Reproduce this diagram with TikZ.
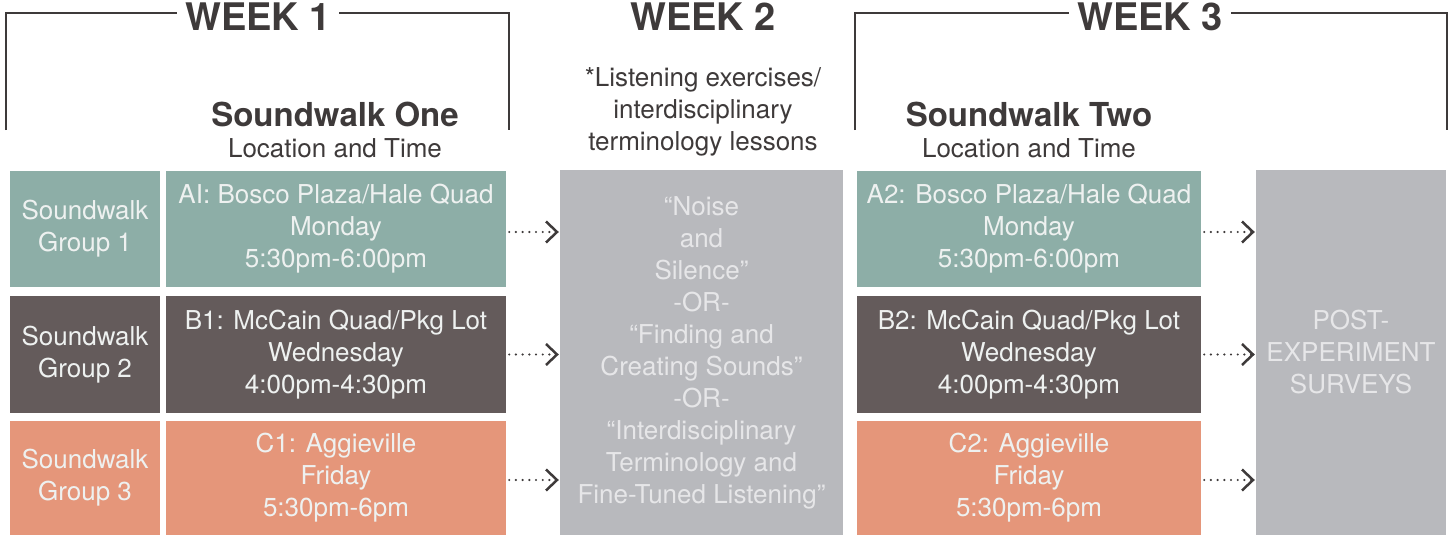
\documentclass[tikz,border=0pt]{standalone}
\usepackage{fontspec}
\setmainfont{TeX Gyre Heros}
\usetikzlibrary{arrows.meta}
\definecolor{tealc}{HTML}{8DAEA7}
\definecolor{darkc}{HTML}{645B5B}
\definecolor{orangec}{HTML}{E5967A}
\definecolor{grayc}{HTML}{B8B9BD}
\definecolor{inkc}{HTML}{3E3A3A}
\definecolor{boxtext}{HTML}{EEF1F0}
\definecolor{graytext}{HTML}{E6E6E8}
\newcommand{\bodyfont}{\fontsize{26}{32}\selectfont}
\begin{document}
\begin{tikzpicture}[x=1pt,y=-1pt,
  cell/.style={draw=none, inner sep=0pt, align=center, text=boxtext, font=\bodyfont},
  weeklabel/.style={font=\fontsize{38}{40}\selectfont\bfseries, text=inkc, inner sep=0pt, inner xsep=8pt},
  headbold/.style={font=\fontsize{33}{36}\selectfont\bfseries, text=inkc, inner sep=0pt},
  headreg/.style={font=\bodyfont, text=inkc, inner sep=0pt, align=center},
  bracket/.style={draw=inkc, line width=1.3pt},
  dotarrow/.style={draw=inkc, line width=2.4pt, line cap=round, dash pattern=on 0pt off 6.7pt,
    -{Straight Barb[length=11pt,width=21pt,line width=2.5pt]}, shorten >=1pt}
]
\useasboundingbox (0,0) rectangle (1452,535);

% week labels and brackets
\node[weeklabel] (w1) at (258,17) {WEEK 1};
\node[weeklabel] (w2) at (703,17) {WEEK 2};
\node[weeklabel] (w3) at (1150,17) {WEEK 3};
\draw[bracket] (6,130) -- (6,13) -- (w1.west |- 0,13);
\draw[bracket] (w1.east |- 0,13) -- (509,13) -- (509,130);
\draw[bracket] (855,130) -- (855,13) -- (w3.west |- 0,13);
\draw[bracket] (w3.east |- 0,13) -- (1447,13) -- (1447,130);

% headers
\node[headbold] (h1) at (335,114) {Soundwalk One};
\node[headreg] (l1) at (335,148) {Location and Time};
\node[headbold] (h3) at (1029,114) {Soundwalk Two};
\node[headreg] (l3) at (1029,148) {Location and Time};
\node[headreg] (n2) at (703,112) {*Listening exercises/\\interdisciplinary\\terminology lessons};

% column 1
\node[cell, fill=tealc, minimum width=150pt, minimum height=116pt] (g1) at (85,229) {Soundwalk\\Group 1};
\node[cell, fill=darkc, minimum width=150pt, minimum height=117pt] (g2) at (85,354.5) {Soundwalk\\Group 2};
\node[cell, fill=orangec, minimum width=150pt, minimum height=114pt] (g3) at (85,478) {Soundwalk\\Group 3};

% column 2
\node[cell, fill=tealc, minimum width=340pt, minimum height=116pt] (a1) at (336,229) {AI: Bosco Plaza/Hale Quad\\Monday\\5:30pm-6:00pm};
\node[cell, fill=darkc, minimum width=340pt, minimum height=117pt] (b1) at (336,354.5) {B1: McCain Quad/Pkg Lot\\Wednesday\\4:00pm-4:30pm};
\node[cell, fill=orangec, minimum width=340pt, minimum height=114pt] (c1) at (336,478) {C1: Aggieville\\Friday\\5:30pm-6pm};

% middle
\node[cell, fill=grayc, text=graytext, minimum width=283pt, minimum height=365pt] (mid) at (701.5,352.5)
  {“Noise\\and\\Silence”\\-OR-\\“Finding and\\Creating Sounds”\\-OR-\\“Interdisciplinary\\Terminology and\\Fine-Tuned Listening”};

% column 4
\node[cell, fill=tealc, minimum width=344pt, minimum height=116pt] (a2) at (1029,229) {A2: Bosco Plaza/Hale Quad\\Monday\\5:30pm-6:00pm};
\node[cell, fill=darkc, minimum width=344pt, minimum height=117pt] (b2) at (1029,354.5) {B2: McCain Quad/Pkg Lot\\Wednesday\\4:00pm-4:30pm};
\node[cell, fill=orangec, minimum width=344pt, minimum height=114pt] (c2) at (1029,478) {C2: Aggieville\\Friday\\5:30pm-6pm};

% post
\node[cell, fill=grayc, text=graytext, minimum width=190pt, minimum height=365pt] (post) at (1351,352.5)
  {POST-\\EXPERIMENT\\SURVEYS};

% arrows
\draw[dotarrow] ([xshift=3pt,yshift=-3pt]a1.east) -- ([yshift=-3pt]a1.east -| mid.west);
\draw[dotarrow] ([xshift=3pt]b1.east) -- (b1.east -| mid.west);
\draw[dotarrow] ([xshift=3pt,yshift=-2pt]c1.east) -- ([yshift=-2pt]c1.east -| mid.west);
\draw[dotarrow] ([xshift=3pt,yshift=-3pt]a2.east) -- ([yshift=-3pt]a2.east -| post.west);
\draw[dotarrow] ([xshift=3pt]b2.east) -- (b2.east -| post.west);
\draw[dotarrow] ([xshift=3pt,yshift=-2pt]c2.east) -- ([yshift=-2pt]c2.east -| post.west);
\end{tikzpicture}
\end{document}
